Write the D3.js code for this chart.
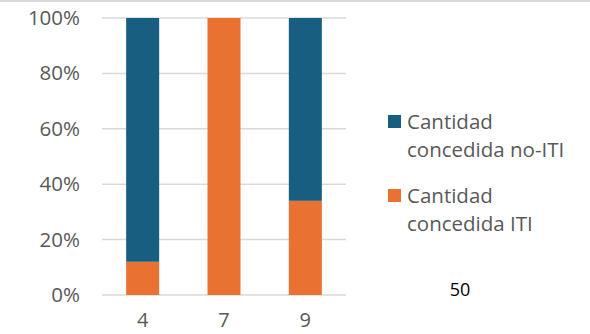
<!DOCTYPE html>
<html><head><meta charset="utf-8">
<script src="https://cdn.jsdelivr.net/npm/d3@7"></script>
<style>body{margin:0;background:#fff;} svg{display:block;}</style>
</head><body>
<svg id="c" width="590" height="334"></svg>
<script>
const categories = ["4", "7", "9"];
const itiShare = [0.12, 1.00, 0.34];
const noItiShare = [0.88, 0.00, 0.66];
const seriesNames = ["Cantidad concedida no-ITI", "Cantidad concedida ITI"];
const seriesColors = ["#175E80", "#E97132"];
const yTicks = [0, 0.2, 0.4, 0.6, 0.8, 1.0];
const pageNumber = "50";

const svg = d3.select("#c");
const font = "'Open Sans', 'Noto Sans', sans-serif";
const textColor = "#595959";

svg.append("rect").attr("x",0).attr("y",0).attr("width",590).attr("height",2).attr("fill","#D9D9D9");

const x = d3.scaleBand().domain(categories).range([102, 346]).paddingInner(0.594).paddingOuter(0.297);
const y = d3.scaleLinear().domain([0, 1]).range([295, 18]);

// gridlines
svg.append("g").selectAll("line").data(yTicks).join("line")
  .attr("x1", 102).attr("x2", 346)
  .attr("y1", d => y(d)).attr("y2", d => y(d))
  .attr("stroke", "#D9D9D9").attr("stroke-width", 1.5);

// y axis labels
const yAxis = d3.axisLeft(y).tickValues(yTicks).tickFormat(d3.format(".0%")).tickSize(0).tickPadding(0);
const gy = svg.append("g").attr("transform", "translate(80,0)").call(yAxis);
gy.select(".domain").remove();
gy.selectAll("text").attr("font-family", font).attr("font-size", 20.5).attr("fill", textColor);

// stacked bars
const rows = categories.map((c, i) => ({cat: c, iti: itiShare[i], noiti: noItiShare[i]}));
const stack = d3.stack().keys(["iti", "noiti"])(rows);
const colorFor = {iti: seriesColors[1], noiti: seriesColors[0]};
svg.append("g").selectAll("g").data(stack).join("g")
  .attr("fill", d => colorFor[d.key])
  .selectAll("rect").data(d => d).join("rect")
  .attr("x", d => x(d.data.cat))
  .attr("width", x.bandwidth())
  .attr("y", d => y(d[1]))
  .attr("height", d => y(d[0]) - y(d[1]));

// x axis labels
const xAxis = d3.axisBottom(x).tickSize(0).tickPadding(0);
const gx = svg.append("g").attr("transform", "translate(0,0)").call(xAxis);
gx.select(".domain").remove();
gx.selectAll("text").attr("font-family", font).attr("font-size", 20).attr("fill", textColor).attr("dy", null).attr("y", 327);

// legend
const legendY = [115, 189];
const legendLines = [["Cantidad", "concedida no-ITI"], ["Cantidad", "concedida ITI"]];
const lg = svg.append("g");
seriesNames.forEach((n, i) => {
  lg.append("rect").attr("x", 388).attr("y", legendY[i]).attr("width", 13).attr("height", 13).attr("fill", seriesColors[i]);
  const t = lg.append("text").attr("font-family", font).attr("font-size", 20.5).attr("fill", textColor);
  legendLines[i].forEach((ln, j) => {
    t.append("tspan").attr("x", 407).attr("y", legendY[i] + 14 + j * 28).text(ln);
  });
});

svg.append("text").attr("x", 460).attr("y", 296).attr("text-anchor", "middle")
  .attr("font-family", font).attr("font-size", 18).attr("fill", "#000").text(pageNumber);
</script>
</body></html>
